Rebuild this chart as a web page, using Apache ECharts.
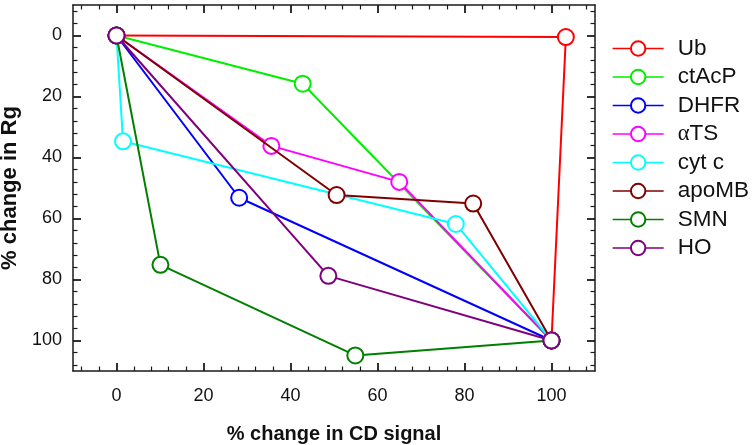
<!DOCTYPE html>
<html>
<head>
<meta charset="utf-8">
<script src="https://cdn.jsdelivr.net/npm/echarts@6/dist/echarts.min.js"></script>
<style>html,body{margin:0;padding:0;background:#fff;}#c{width:754px;height:445px;}</style>
</head>
<body>
<div id="c"></div>
<script>
// ---- data ----
const seriesNames = ['Ub', 'ctAcP', 'DHFR', 'αTS', 'cyt c', 'apoMB', 'SMN', 'HO'];
const Ub    = [[0, 0], [103.3, 0.5], [100, 100]];
const ctAcP = [[0, 0], [42.8, 15.8], [100, 100]];
const DHFR  = [[0, 0], [28.2, 53.2], [100, 100]];
const aTS   = [[0, 0], [35.6, 36.2], [65.0, 48.0], [100, 100]];
const cytc  = [[0, 0], [1.5, 34.7], [78.0, 61.8], [100, 100]];
const apoMB = [[0, 0], [50.6, 52.3], [82.0, 55.1], [100, 100]];
const SMN   = [[0, 0], [10.1, 75.2], [54.9, 104.9], [100, 100]];
const HO    = [[0, 0], [48.7, 78.8], [100, 100]];
const xTicks = [0, 20, 40, 60, 80, 100];
const yTicks = [0, 20, 40, 60, 80, 100];
const xMinorTicks = [-8, -4, 4, 8, 12, 16, 24, 28, 32, 36, 44, 48, 52, 56, 64, 68, 72, 76, 84, 88, 92, 96, 104, 108];
const yMinorTicks = [-8, -4, 4, 8, 12, 16, 24, 28, 32, 36, 44, 48, 52, 56, 64, 68, 72, 76, 84, 88, 92, 96, 104, 108];

// ---- styles ----
const colors = ['#ff0000', '#00ee00', '#0000ff', '#ff00ff', '#00ffff', '#7f0000', '#007f00', '#7f007f'];
const allData = [Ub, ctAcP, DHFR, aTS, cytc, apoMB, SMN, HO];
const FONT = 'Liberation Sans, Arial, Helvetica, sans-serif';
const AX = '#1a1a1a';

function xAx(pos, ticks, len, showLine, showLabel, extra) {
  return Object.assign({
    type: 'value', position: pos, min: -10, max: 110,
    axisLine: { show: showLine, onZero: false, lineStyle: { color: AX, width: 1.5 } },
    axisTick: { show: true, inside: true, length: len, customValues: ticks, lineStyle: { color: AX, width: len > 5 ? 1.8 : 1.2 } },
    axisLabel: { show: showLabel, customValues: ticks, color: '#111', fontSize: 18, fontFamily: FONT, margin: 16 },
    splitLine: { show: false }
  }, extra || {});
}
function yAx(pos, ticks, len, showLine, showLabel, extra) {
  return Object.assign({
    type: 'value', position: pos, min: -10, max: 110, inverse: true,
    axisLine: { show: showLine, onZero: false, lineStyle: { color: AX, width: 1.5 } },
    axisTick: { show: true, inside: true, length: len, customValues: ticks, lineStyle: { color: AX, width: len > 5 ? 1.8 : 1.2 } },
    axisLabel: { show: showLabel, customValues: ticks, color: '#111', fontSize: 18, fontFamily: FONT, margin: 11 },
    splitLine: { show: false }
  }, extra || {});
}

const chart = echarts.init(document.getElementById('c'), null, { renderer: 'canvas' });
chart.setOption({
  animation: false,
  backgroundColor: '#fff',
  grid: { left: 73, top: 5, right: 159, bottom: 74, containLabel: false, outerBoundsMode: 'none' },
  legend: {
    orient: 'vertical', left: 612, top: 37, padding: 0,
    itemWidth: 51, itemHeight: 18, itemGap: 5.5,
    data: seriesNames,
    formatter: n => n === 'αTS' ? '{g|α}TS' : n,
    textStyle: { fontSize: 22.5, fontFamily: FONT, color: '#111', padding: [0, 0, 0, 9],
      rich: { g: { fontSize: 22.5, fontFamily: 'Liberation Serif, DejaVu Serif, serif', color: '#111' } } },
    lineStyle: { width: 1.3 }
  },
  xAxis: [
    xAx('bottom', xTicks, 8, true, true, {
      name: '% change in CD signal', nameLocation: 'middle', nameGap: 53,
      nameTextStyle: { fontSize: 20, fontWeight: 'bold', fontFamily: FONT, color: '#111' }
    }),
    xAx('bottom', xMinorTicks, 4.5, false, false),
    xAx('top', xTicks, 8, true, false),
    xAx('top', xMinorTicks, 4.5, false, false)
  ],
  yAxis: [
    yAx('left', yTicks, 8, true, true, {
      name: '% change in Rg', nameLocation: 'middle', nameGap: 43,
      nameTextStyle: { fontSize: 22, fontWeight: 'bold', fontFamily: FONT, color: '#111' }
    }),
    yAx('left', yMinorTicks, 4.5, false, false),
    yAx('right', yTicks, 8, true, false),
    yAx('right', yMinorTicks, 4.5, false, false)
  ],
  series: seriesNames.map((n, i) => ({
    name: n, type: 'line', xAxisIndex: 0, yAxisIndex: 0,
    data: allData[i],
    symbol: 'emptyCircle', symbolSize: 16,
    color: colors[i],
    lineStyle: { color: colors[i], width: 2 },
    itemStyle: { color: colors[i], borderColor: colors[i], borderWidth: 2 },
    emphasis: { disabled: true },
    z: 2 + i
  }))
});
</script>
</body>
</html>
